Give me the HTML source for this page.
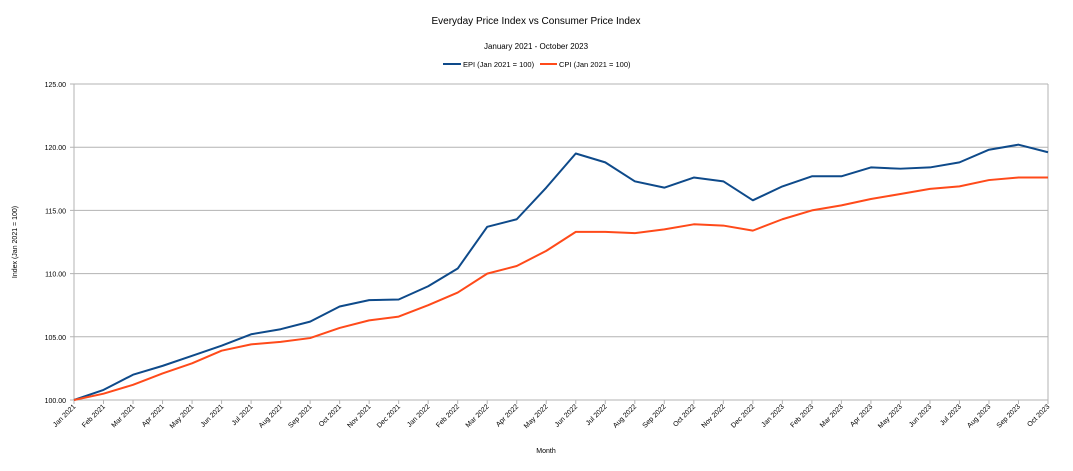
<!DOCTYPE html>
<html><head><meta charset="utf-8"><style>
body{margin:0;background:#fff;font-family:"Liberation Sans",sans-serif;}
svg text{font-family:"Liberation Sans",sans-serif;fill:#000;}
</style></head><body>
<svg id="chart" width="1073" height="466" viewBox="0 0 1073 466" xmlns="http://www.w3.org/2000/svg">
<text x="536" y="24" font-size="10" text-anchor="middle">Everyday Price Index vs Consumer Price Index</text>
<text x="536" y="49" font-size="8" text-anchor="middle">January 2021 - October 2023</text>
<g>
<line x1="443" y1="64" x2="461" y2="64" stroke="#0e4a8a" stroke-width="2"/>
<text x="463" y="67" font-size="7.5">EPI (Jan 2021 = 100)</text>
<line x1="540" y1="64" x2="557" y2="64" stroke="#ff4a1a" stroke-width="2"/>
<text x="559" y="67" font-size="7.5">CPI (Jan 2021 = 100)</text>
</g>
<g id="grid"></g><g id="xlabels"></g><g id="series"></g>
<text transform="translate(17,242) rotate(-90)" font-size="7" text-anchor="middle">Index (Jan 2021 = 100)</text>
<text x="546" y="453" font-size="7" text-anchor="middle">Month</text>
</svg>
<script>
const months=["Jan 2021","Feb 2021","Mar 2021","Apr 2021","May 2021","Jun 2021","Jul 2021","Aug 2021","Sep 2021","Oct 2021","Nov 2021","Dec 2021","Jan 2022","Feb 2022","Mar 2022","Apr 2022","May 2022","Jun 2022","Jul 2022","Aug 2022","Sep 2022","Oct 2022","Nov 2022","Dec 2022","Jan 2023","Feb 2023","Mar 2023","Apr 2023","May 2023","Jun 2023","Jul 2023","Aug 2023","Sep 2023","Oct 2023"];
const epi=[100,100.8,102.0,102.7,103.5,104.3,105.2,105.6,106.2,107.4,107.9,107.95,109.0,110.4,113.7,114.3,116.8,119.5,118.8,117.3,116.8,117.6,117.3,115.8,116.9,117.7,117.7,118.4,118.3,118.4,118.8,119.8,120.2,119.6];
const cpi=[100,100.5,101.2,102.1,102.9,103.9,104.4,104.6,104.9,105.7,106.3,106.6,107.5,108.5,110.0,110.6,111.8,113.3,113.3,113.2,113.5,113.9,113.8,113.4,114.3,115.0,115.4,115.9,116.3,116.7,116.9,117.4,117.6,117.6];
const yTicks=[100,105,110,115,120,125];
const L=74,R=1048,T=84,B=400,ymin=100,ymax=125;
const NS="http://www.w3.org/2000/svg";
const xs=i=>L+(R-L)*i/(months.length-1);
const ys=v=>B-(B-T)*(v-ymin)/(ymax-ymin);
function mk(t,a,p){const e=document.createElementNS(NS,t);for(const k in a)e.setAttribute(k,a[k]);p.appendChild(e);return e;}
const g=document.getElementById('grid');
yTicks.forEach(v=>{
const l=mk('line',{x1:L-4,x2:R,y1:ys(v),y2:ys(v),stroke:'#b3b3b3','stroke-width':1},g);


const t=mk('text',{x:L-8,y:ys(v)+3,'font-size':7,'text-anchor':'end'},g);t.textContent=v.toFixed(2);


});
const ax=mk('line',{x1:L,x2:L,y1:T,y2:B+4,stroke:'#b3b3b3'},g);


const ax2=mk('line',{x1:R,x2:R,y1:T,y2:B,stroke:'#b3b3b3'},g);


const xl=document.getElementById('xlabels');
months.forEach((m,i)=>{
const tk=mk('line',{x1:xs(i),x2:xs(i),y1:B,y2:B+4,stroke:'#b3b3b3'},xl);


const t=mk('text',{transform:`translate(${xs(i)+2},${B+7}) rotate(-45)`,'font-size':7,'text-anchor':'end'},xl);t.textContent=m;


});
const s=document.getElementById('series');
[[epi,'#0e4a8a','epi-line'],[cpi,'#ff4a1a','cpi-line']].forEach(([d,c,n])=>{
const p=mk('polyline',{points:d.map((v,i)=>xs(i)+','+ys(v)).join(' '),fill:'none',stroke:c,'stroke-width':2,'stroke-linejoin':'round'},s);


});
</script>
</body></html>
